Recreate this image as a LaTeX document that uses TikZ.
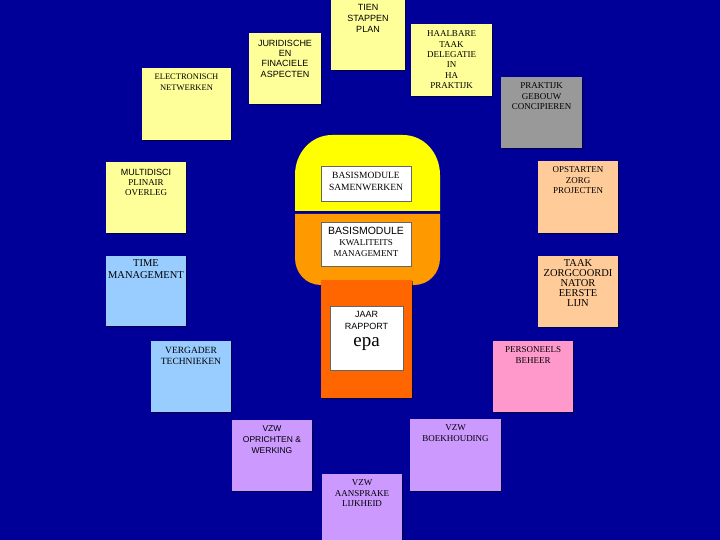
\documentclass[tikz,border=0pt]{standalone}
\usepackage{fontspec}
\setmainfont{Liberation Serif}
\setsansfont{Liberation Sans}
\usetikzlibrary{shadows}
\definecolor{bgblue}{RGB}{0,0,153}
\definecolor{pyellow}{RGB}{255,255,153}
\definecolor{pgray}{RGB}{153,153,153}
\definecolor{ppeach}{RGB}{255,204,153}
\definecolor{pblue}{RGB}{153,204,255}
\definecolor{plav}{RGB}{204,153,255}
\definecolor{ppink}{RGB}{255,153,204}
\definecolor{domey}{RGB}{255,255,0}
\definecolor{domeo}{RGB}{255,153,0}
\definecolor{domer}{RGB}{255,102,0}
\newcommand\fs[2]{\fontsize{#1}{#2}\selectfont}
\tikzset{
  card/.style={fill=#1, inner sep=0pt, outer sep=0pt, anchor=north west,
    drop shadow={shadow xshift=1.2pt, shadow yshift=-1.2pt, opacity=.55, fill=black}},
  wbox/.style={fill=white, draw=black!60, line width=0.5pt, inner sep=0pt, outer sep=0pt, anchor=north west},
  lbl/.style={anchor=north, align=center, inner sep=0pt, outer sep=0pt, text=black},
}
\begin{document}
\begin{tikzpicture}[x=1pt,y=-1pt]
\path[use as bounding box, fill=bgblue] (0,0) rectangle (720,540);

% central shape
\fill[domey] (295,211) -- (295,175) .. controls (295,153) and (311,135) .. (332,135)
  -- (403,135) .. controls (424,135) and (440,153) .. (440,175) -- (440,211) -- cycle;
\fill[domeo] (295,214) -- (295,258) .. controls (295,273) and (306,285) .. (321,285)
  -- (414,285) .. controls (429,285) and (440,273) .. (440,258) -- (440,214) -- cycle;
\node[card=domer, minimum width=91pt, minimum height=118pt] (red) at (321,280) {};

\node[wbox, minimum width=90pt, minimum height=35pt] (bm1) at (321,166) {};
\node[lbl, font=\rmfamily\fs{9.5}{12}] (bm1t) at (366,172) {BASISMODULE\\SAMENWERKEN};
\node[wbox, minimum width=90pt, minimum height=44pt] (bm2) at (321,222) {};
\node[lbl, font=\rmfamily\fs{9}{11}] (bm2t) at (366,227) {{\sffamily\fs{10.5}{11}BASISMODULE}\\KWALITEITS\\MANAGEMENT};
\node[wbox, minimum width=73pt, minimum height=64pt] (jr) at (330,306) {};
\node[lbl, font=\sffamily\fs{9}{12}] (jrt) at (366.5,311) {JAAR\\RAPPORT};
\node[anchor=center, inner sep=0pt, font=\rmfamily\fs{19}{20}] (epa) at (366.5,344) {epa};

% top yellow cards
\node[card=pyellow, minimum width=74pt, minimum height=74pt] (tien) at (331,-4) {};
\node[lbl, font=\sffamily\fs{9}{11}] (tient) at (368,4) {TIEN\\STAPPEN\\PLAN};
\node[card=pyellow, minimum width=72pt, minimum height=71pt] (jur) at (249,33) {};
\node[lbl, font=\sffamily\fs{9}{10.3}] (jurt) at (285,40) {JURIDISCHE\\EN\\FINACIELE\\ASPECTEN};
\node[card=pyellow, minimum width=89pt, minimum height=72pt] (elec) at (142,68) {};
\node[lbl, font=\rmfamily\fs{8.5}{10.5}] (elect) at (186.5,74) {ELECTRONISCH\\NETWERKEN};
\node[card=pyellow, minimum width=81pt, minimum height=72pt] (haal) at (411,24) {};
\node[lbl, font=\rmfamily\fs{9}{10.3}] (haalt) at (451.5,31) {HAALBARE\\TAAK\\DELEGATIE\\IN\\HA\\PRAKTIJK};
\node[card=pyellow, minimum width=80pt, minimum height=71pt] (multi) at (106,162) {};
\node[lbl, font=\rmfamily\fs{9}{10}] (multit) at (146,169) {{\sffamily MULTIDISCI}\\PLINAIR\\OVERLEG};

% right cards
\node[card=pgray, minimum width=81pt, minimum height=71pt] (prak) at (501,77) {};
\node[lbl, font=\rmfamily\fs{9}{10.4}] (prakt) at (541.5,83) {PRAKTIJK\\GEBOUW\\CONCIPIEREN};
\node[card=ppeach, minimum width=80pt, minimum height=72pt] (opst) at (538,161) {};
\node[lbl, font=\rmfamily\fs{9}{10.5}] (opstt) at (578,167) {OPSTARTEN\\ZORG\\PROJECTEN};
\node[card=ppeach, minimum width=80pt, minimum height=71pt] (taak) at (538,256) {};
\node[lbl, font=\rmfamily\fs{10.5}{10}] (taakt) at (578,259.5) {TAAK\\ZORGCOORDI\\NATOR\\EERSTE\\LIJN};
\node[card=ppink, minimum width=80pt, minimum height=71pt] (pers) at (493,341) {};
\node[lbl, font=\rmfamily\fs{9}{11}] (perst) at (533,347) {PERSONEELS\\BEHEER};

% left blue cards
\node[card=pblue, minimum width=80pt, minimum height=70pt] (time) at (106,256) {};
\node[lbl, font=\rmfamily\fs{10.5}{12}] (timet) at (146,259.5) {TIME\\MANAGEMENT};
\node[card=pblue, minimum width=80pt, minimum height=71pt] (verg) at (151,341) {};
\node[lbl, font=\rmfamily\fs{9.5}{11}] (vergt) at (191,347) {VERGADER\\TECHNIEKEN};

% bottom lavender cards
\node[card=plav, minimum width=80pt, minimum height=71pt] (opr) at (232,420) {};
\node[lbl, font=\sffamily\fs{8.5}{11}] (oprt) at (272,426) {VZW\\OPRICHTEN \&\\WERKING};
\node[card=plav, minimum width=91pt, minimum height=72pt] (boek) at (410,419) {};
\node[lbl, font=\rmfamily\fs{9}{11}] (boekt) at (455.5,425) {VZW\\BOEKHOUDING};
\node[card=plav, minimum width=80pt, minimum height=72pt] (aans) at (322,474) {};
\node[lbl, font=\rmfamily\fs{9}{10.5}] (aanst) at (362,480) {VZW\\AANSPRAKE\\LIJKHEID};
\end{tikzpicture}
\end{document}
